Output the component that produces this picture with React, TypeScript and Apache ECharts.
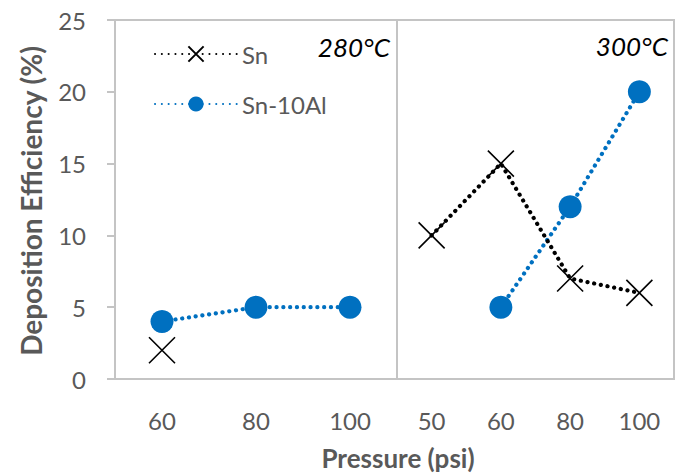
import React, { useEffect, useRef } from "react";
import * as echarts from "echarts";

const leftCategories = ["60", "80", "100"];
const rightCategories = ["50", "60", "80", "100"];
const snLeft = [2, null, null];
const snAlLeft = [4, 5, 5];
const snRight = [10, 15, 7, 6];
const snAlRight = [null, 5, 12, 20];
const seriesNames = ["Sn", "Sn-10Al"];
const panelLabels = ["280°C", "300°C"];
const yMin = 0;
const yMax = 25;
const yStep = 5;
const xTitle = "Pressure (psi)";
const yTitle = "Deposition Efficiency (%)";

const FONT = "Lato";
const GREY = "#595959";
const BORDER = "#c4c4c4";
const BLUE = "#0070C0";
const CROSS = "path://M0,0L10,10M0,10L10,0";

export default function App() {
  const ref = useRef<HTMLDivElement>(null);
  useEffect(() => {
    if (!ref.current) return;
    const chart = echarts.init(ref.current, undefined, { renderer: "svg" });
    const dots = { width: 4.2, type: [0.1, 6.7], cap: "round" as const };
    const snStyle = {
      symbol: CROSS,
      symbolSize: 26,
      itemStyle: { color: "rgba(0,0,0,0)", borderColor: "#000", borderWidth: 1.6 },
      lineStyle: { color: "#000", ...dots },
    };
    const alStyle = {
      symbol: "circle",
      symbolSize: 23,
      itemStyle: { color: BLUE },
      lineStyle: { color: BLUE, ...dots },
    };
    const axisLabel = { color: GREY, fontFamily: FONT, fontSize: 24 };
    chart.setOption({
      animation: false,
      grid: [
        { left: 115, top: 20, width: 282, height: 359, show: true, borderColor: BORDER, borderWidth: 2 },
        { left: 397, top: 20, width: 277, height: 359, show: true, borderColor: BORDER, borderWidth: 2 },
      ],
      xAxis: [
        {
          type: "category", gridIndex: 0, data: leftCategories, boundaryGap: true,
          axisLine: { show: false }, axisTick: { show: false }, splitLine: { show: false },
          axisLabel: { ...axisLabel, margin: 29 },
        },
        {
          type: "category", gridIndex: 1, data: rightCategories, boundaryGap: true,
          axisLine: { show: false }, axisTick: { show: false }, splitLine: { show: false },
          axisLabel: { ...axisLabel, margin: 29 },
        },
      ],
      yAxis: [
        {
          type: "value", gridIndex: 0, min: yMin, max: yMax, interval: yStep,
          axisLine: { show: false },
          axisTick: { show: true, inside: false, length: 8, lineStyle: { color: BORDER, width: 2 } },
          splitLine: { show: false },
          axisLabel: { ...axisLabel, margin: 29 },
        },
        {
          type: "value", gridIndex: 1, min: yMin, max: yMax, interval: yStep,
          axisLine: { show: false }, axisTick: { show: false }, splitLine: { show: false },
          axisLabel: { show: false },
        },
      ],
      legend: {
        orient: "vertical",
        left: 149,
        top: 37,
        itemWidth: 82,
        itemHeight: 19,
        itemGap: 26,
        data: seriesNames,
        textStyle: { color: GREY, fontFamily: FONT, fontSize: 24, lineHeight: 19 },
      },
      series: [
        { name: seriesNames[0], type: "line", xAxisIndex: 0, yAxisIndex: 0, data: snLeft, ...snStyle, z: 3 },
        { name: seriesNames[1], type: "line", xAxisIndex: 0, yAxisIndex: 0, data: snAlLeft, ...alStyle, z: 2 },
        { name: seriesNames[0], type: "line", xAxisIndex: 1, yAxisIndex: 1, data: snRight, ...snStyle, z: 3 },
        { name: seriesNames[1], type: "line", xAxisIndex: 1, yAxisIndex: 1, data: snAlRight, ...alStyle, z: 2 },
      ],
      graphic: [
        {
          type: "text", x: 390, y: 47,
          style: { text: panelLabels[0], fill: "#000", fontFamily: FONT, fontSize: 26, fontStyle: "italic", align: "right", verticalAlign: "middle" },
        },
        {
          type: "text", x: 668, y: 46,
          style: { text: panelLabels[1], fill: "#000", fontFamily: FONT, fontSize: 26, fontStyle: "italic", align: "right", verticalAlign: "middle" },
        },
        {
          type: "text", x: 398, y: 458,
          style: { text: xTitle, fill: GREY, fontFamily: FONT, fontSize: 26, fontWeight: "bold", align: "center", verticalAlign: "middle" },
        },
        {
          type: "text", x: 31, y: 201, rotation: Math.PI / 2,
          style: { text: yTitle, fill: GREY, fontFamily: FONT, fontSize: 28, fontWeight: "bold", align: "center", verticalAlign: "middle" },
        },
      ],
    });
    return () => chart.dispose();
  }, []);
  return (
    <div
      ref={ref}
      style={{ position: "fixed", left: 0, top: 0, width: 685, height: 473, background: "#fff" }}
    />
  );
}
